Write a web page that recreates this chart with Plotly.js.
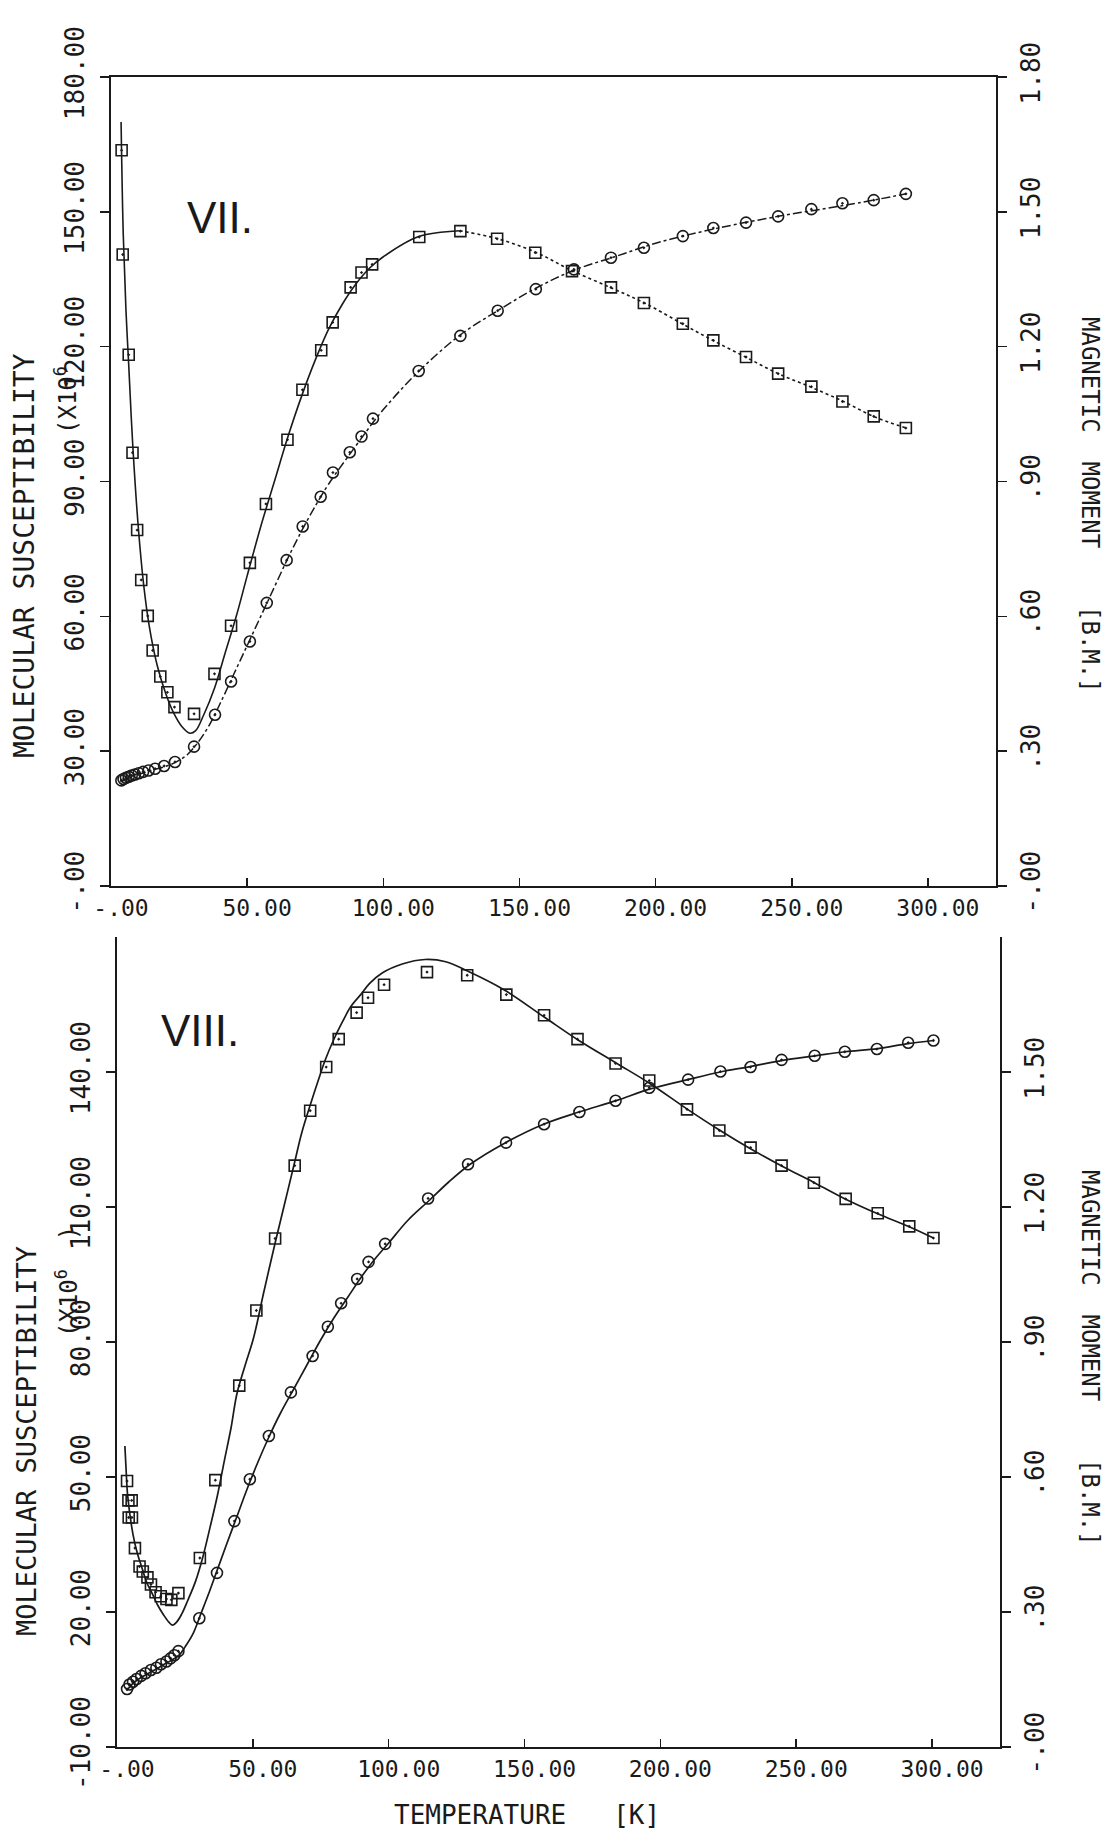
<!DOCTYPE html>
<html>
<head>
<meta charset="utf-8">
<script src="https://cdn.plot.ly/plotly-3.0.1.min.js"></script>
<style>
  html, body { margin: 0; padding: 0; background: #ffffff; }
  #chart { width: 1109px; height: 1831px; }
</style>
</head>
<body>
<div id="chart"></div>
<script>
// ---------------- DATA ----------------
// Panel VII : measured susceptibility (squares, left axis) and magnetic moment (circles, right axis)
const T7_sq = [3.9, 4.3, 6.5, 7.9, 9.6, 11.1, 13.5, 15.3, 18.1, 20.7, 23.3, 30.5, 38.0, 44.1, 51.0, 56.9, 64.8, 70.3, 77.2, 81.4, 88.0, 92.0, 95.9, 113.2, 128.3, 141.8, 155.8, 169.3, 183.6, 195.7, 210.0, 221.2, 233.2, 245.0, 257.2, 268.6, 280.1, 291.9];
const chi7 = [163.7, 140.5, 118.2, 96.4, 79.2, 68.1, 60.1, 52.4, 46.6, 43.1, 39.8, 38.3, 47.2, 57.9, 71.9, 85.0, 99.3, 110.4, 119.2, 125.4, 133.2, 136.5, 138.3, 144.4, 145.7, 144.0, 140.9, 136.8, 133.2, 129.7, 125.1, 121.4, 117.7, 114.0, 111.1, 107.8, 104.5, 101.9];
const T7_ci = [3.8, 4.6, 5.5, 6.5, 7.6, 8.8, 10.2, 11.8, 13.8, 16.2, 19.5, 23.5, 30.5, 38.2, 44.1, 51.0, 57.2, 64.5, 70.4, 77.0, 81.5, 87.7, 92.0, 96.2, 113.0, 128.3, 142.0, 156.0, 170.0, 183.6, 195.7, 210.0, 221.2, 233.2, 245.0, 257.2, 268.6, 280.1, 291.9];
const mu7 = [0.235, 0.238, 0.241, 0.243, 0.246, 0.248, 0.251, 0.254, 0.257, 0.261, 0.267, 0.276, 0.310, 0.381, 0.455, 0.544, 0.630, 0.725, 0.800, 0.866, 0.920, 0.965, 1.000, 1.040, 1.146, 1.224, 1.280, 1.328, 1.372, 1.398, 1.420, 1.446, 1.464, 1.476, 1.490, 1.506, 1.519, 1.526, 1.540];
// Panel VII : fitted curves
const T7_fitChiA = [3.7, 4.5, 5.5, 6.5, 8, 10, 12, 14, 17, 20, 23, 26, 29, 31, 34, 38, 42, 46, 50, 55, 60, 65, 70, 75, 80, 85, 90, 95, 100, 113, 128];
const chi7_fitA = [170, 145, 128, 116, 98, 80, 67, 58, 49, 43, 38.5, 35.5, 34, 34.5, 38, 44, 52, 60, 69, 80, 90, 100, 109, 117, 124, 129.5, 134, 137.5, 140, 144.5, 145.8];
const T7_fitChiB = [128, 142, 156, 169, 184, 196, 210, 221, 233, 245, 257, 269, 280, 292];
const chi7_fitB = [145.8, 144, 141, 137, 133, 129.7, 125, 121.4, 117.7, 114, 111, 107.8, 104.5, 101.9];
const T7_fitMu = [3.5, 8, 12, 16, 20, 24, 28, 32, 36, 40, 45, 50, 55, 60, 65, 70, 75, 80, 90, 100, 113, 128, 142, 156, 170, 185, 200, 220, 245, 270, 292];
const mu7_fit = [0.232, 0.245, 0.252, 0.259, 0.266, 0.276, 0.292, 0.32, 0.357, 0.405, 0.47, 0.535, 0.60, 0.665, 0.73, 0.79, 0.845, 0.895, 0.98, 1.06, 1.145, 1.225, 1.28, 1.33, 1.37, 1.40, 1.43, 1.46, 1.49, 1.515, 1.54];

// Panel VIII
const T8_sq = [3.7, 4.2, 5.4, 4.3, 5.5, 6.6, 8.3, 9.5, 11.2, 12.5, 14.2, 16.1, 18.2, 20.0, 22.6, 30.5, 36.2, 45.0, 51.3, 58.2, 65.4, 71.1, 77.0, 81.6, 88.2, 92.4, 98.3, 114.1, 128.9, 143.3, 157.2, 169.5, 183.5, 195.9, 209.8, 221.7, 233.2, 244.6, 256.5, 268.2, 280.0, 291.6, 300.5];
const chi8 = [49.1, 44.8, 44.8, 41.0, 41.0, 34.2, 30.1, 29.0, 27.7, 26.1, 24.4, 23.5, 22.9, 22.7, 24.2, 32.0, 49.3, 70.3, 87.0, 103.0, 119.2, 131.4, 141.1, 147.3, 153.2, 156.5, 159.4, 162.2, 161.5, 157.2, 152.6, 147.3, 141.9, 138.1, 131.7, 127.0, 123.2, 119.2, 115.4, 111.8, 108.6, 105.7, 103.1];
const T8_ci = [3.7, 4.6, 5.9, 7.2, 8.9, 10.5, 12.5, 14.5, 16.2, 18.2, 19.7, 21.1, 22.6, 30.3, 36.8, 43.2, 48.9, 55.9, 64.0, 72.0, 77.6, 82.5, 88.4, 92.6, 98.7, 114.5, 129.2, 143.2, 157.2, 170.2, 183.5, 195.9, 210.2, 222.1, 233.2, 244.6, 256.8, 267.9, 279.7, 291.2, 300.5];
const mu8 = [0.129, 0.139, 0.145, 0.151, 0.158, 0.164, 0.171, 0.176, 0.184, 0.190, 0.197, 0.204, 0.213, 0.286, 0.387, 0.502, 0.595, 0.691, 0.788, 0.869, 0.934, 0.986, 1.040, 1.078, 1.118, 1.219, 1.295, 1.343, 1.384, 1.411, 1.436, 1.465, 1.483, 1.501, 1.511, 1.527, 1.536, 1.545, 1.551, 1.565, 1.570];
const T8_fitChi = [2.9, 3.4, 3.9, 5.9, 7.5, 9.2, 11, 13.2, 15, 17.1, 19, 20.4, 22, 23.7, 26, 28.9, 31.5, 34.2, 37, 39.5, 42, 44.1, 47, 50.3, 54, 58.2, 62, 65.4, 68, 71.3, 74, 76.6, 80, 83.2, 86, 89.7, 93, 97.6, 105, 113.4, 121, 129.2, 142.4, 157.5, 170, 184, 196, 210, 222, 233, 245, 257, 268, 280, 292, 300.5];
const chi8_fit = [56.9, 51, 46, 37.2, 33, 29.8, 26.5, 23.8, 21.5, 19.4, 17.8, 17.1, 17.8, 19.4, 22.5, 26.8, 32, 38.7, 46, 53.6, 61, 68.4, 74.5, 81, 91, 102, 111.5, 120, 126.5, 133, 138, 142.6, 147.5, 151.4, 154.5, 157.2, 159.7, 162, 164, 165, 164.5, 162.4, 158.3, 152.1, 147, 141.9, 137.5, 131.7, 127, 123, 119, 115.3, 111.8, 108.5, 105.5, 103.1];
const T8_fitMu = [3.5, 6, 9, 12, 15, 18, 21, 23, 25, 28, 31, 34, 37, 40, 44, 48, 52, 56, 60, 65, 70, 75, 80, 85, 90, 95, 100, 107, 115, 122, 130, 143, 157, 170, 184, 196, 210, 222, 233, 245, 257, 268, 280, 291, 300.5];
const mu8_fit = [0.125, 0.142, 0.155, 0.165, 0.175, 0.186, 0.196, 0.205, 0.222, 0.252, 0.298, 0.345, 0.395, 0.445, 0.51, 0.575, 0.635, 0.69, 0.74, 0.795, 0.85, 0.905, 0.955, 1.0, 1.045, 1.085, 1.12, 1.17, 1.215, 1.255, 1.295, 1.343, 1.384, 1.411, 1.437, 1.462, 1.483, 1.50, 1.512, 1.526, 1.536, 1.545, 1.552, 1.563, 1.570];

// Tick labels
const xTickVals = [0, 50, 100, 150, 200, 250, 300];
const xTickText = ["-.00", "50.00", "100.00", "150.00", "200.00", "250.00", "300.00"];
const y7TickVals = [0, 30, 60, 90, 120, 150, 180];
const y7TickText = ["-.00", "30.00", "60.00", "90.00", "120.00", "150.00", "180.00"];
const y8TickVals = [-10, 20, 50, 80, 110, 140];
const y8TickText = ["-10.00", "20.00", "50.00", "80.00", "110.00", "140.00"];
const muTickVals7 = [0, 0.3, 0.6, 0.9, 1.2, 1.5, 1.8];
const muTickText7 = ["-.00", ".30", ".60", ".90", "1.20", "1.50", "1.80"];
const muTickVals8 = [0, 0.3, 0.6, 0.9, 1.2, 1.5];
const muTickText8 = ["-.00", ".30", ".60", ".90", "1.20", "1.50"];

// ---------------- LAYOUT ----------------
const W = 1109, H = 1831;
const fx = p => p / W;
const fy = p => 1 - p / H;
const MONO = "DejaVu Sans Mono, monospace";
const ink = "#1a1a1a";

const sq = {symbol: "square-open-dot", size: 11, color: ink, line: {width: 1.6, color: ink}};
const ci = {symbol: "circle-open-dot", size: 11, color: ink, line: {width: 1.6, color: ink}};

const traces = [
  // VII
  {x: T7_fitChiA, y: chi7_fitA, xaxis: "x", yaxis: "y", mode: "lines", line: {color: ink, width: 1.6, shape: "spline"}},
  {x: T7_fitChiB, y: chi7_fitB, xaxis: "x", yaxis: "y", mode: "lines", line: {color: ink, width: 1.6, dash: "dot", shape: "spline"}},
  {x: T7_fitMu, y: mu7_fit, xaxis: "x", yaxis: "y2", mode: "lines", line: {color: ink, width: 1.5, dash: "dashdot", shape: "spline"}},
  {x: T7_sq, y: chi7, xaxis: "x", yaxis: "y", mode: "markers", marker: sq},
  {x: T7_ci, y: mu7, xaxis: "x", yaxis: "y2", mode: "markers", marker: ci},
  // VIII
  {x: T8_fitChi, y: chi8_fit, xaxis: "x2", yaxis: "y3", mode: "lines", line: {color: ink, width: 1.7, shape: "spline"}},
  {x: T8_fitMu, y: mu8_fit, xaxis: "x2", yaxis: "y4", mode: "lines", line: {color: ink, width: 1.7, shape: "spline"}},
  {x: T8_sq, y: chi8, xaxis: "x2", yaxis: "y3", mode: "markers", marker: sq},
  {x: T8_ci, y: mu8, xaxis: "x2", yaxis: "y4", mode: "markers", marker: ci}
];

const axBase = {
  showgrid: false, zeroline: false, showline: true, linecolor: ink, linewidth: 2,
  tickcolor: ink, tickwidth: 1.5, automargin: false, tickmode: "array",
  fixedrange: true
};
const xFont = {family: MONO, size: 23, color: ink};
const yFont = {family: MONO, size: 26, color: ink};

function note(text, xp, yp, size, angle, family) {
  return {
    text: text, x: fx(xp), y: fy(yp), xref: "paper", yref: "paper",
    xanchor: "center", yanchor: "middle", showarrow: false,
    textangle: angle || 0,
    font: {family: family || MONO, size: size, color: ink}
  };
}

const rightTitle = "MAGNETIC\u00a0\u00a0MOMENT\u00a0\u00a0\u00a0\u00a0[B.M.]";

const layout = {
  width: W, height: H,
  margin: {l: 0, r: 0, t: 0, b: 0},
  paper_bgcolor: "#ffffff", plot_bgcolor: "#ffffff",
  showlegend: false,
  xaxis: Object.assign({}, axBase, {
    domain: [fx(111), fx(996)], range: [0, 325], anchor: "y",
    tickvals: xTickVals, ticktext: xTickText, ticks: "inside", ticklen: 8,
    tickfont: xFont, mirror: true, ticklabelshift: 10
  }),
  yaxis: Object.assign({}, axBase, {
    domain: [fy(886), fy(77)], range: [0, 180], anchor: "x",
    tickvals: y7TickVals, ticktext: y7TickText, ticks: "outside", ticklen: 9,
    tickangle: -90, tickfont: yFont, ticklabelstandoff: 6
  }),
  yaxis2: Object.assign({}, axBase, {
    overlaying: "y", side: "right", range: [0, 1.8], anchor: "x",
    tickvals: muTickVals7, ticktext: muTickText7, ticks: "outside", ticklen: 9,
    tickangle: -90, tickfont: yFont, ticklabelstandoff: 2
  }),
  xaxis2: Object.assign({}, axBase, {
    domain: [fx(117), fx(1000)], range: [0, 325], anchor: "y3",
    tickvals: xTickVals, ticktext: xTickText, ticks: "inside", ticklen: 8,
    tickfont: xFont, ticklabelshift: 10
  }),
  yaxis3: Object.assign({}, axBase, {
    domain: [fy(1747), fy(937)], range: [-10, 170], anchor: "x2",
    tickvals: y8TickVals, ticktext: y8TickText, ticks: "outside", ticklen: 9,
    tickangle: -90, tickfont: yFont, ticklabelstandoff: 6
  }),
  yaxis4: Object.assign({}, axBase, {
    overlaying: "y3", side: "right", range: [0, 1.8], anchor: "x2",
    tickvals: muTickVals8, ticktext: muTickText8, ticks: "outside", ticklen: 9,
    tickangle: -90, tickfont: yFont, ticklabelstandoff: 2
  }),
  annotations: [
    note("VII.", 220, 217, 44, 0, "Liberation Sans, Arial, sans-serif"),
    note("VIII.", 200, 1030, 44, 0, "Liberation Sans, Arial, sans-serif"),
    note("MOLECULAR SUSCEPTIBILITY", 24, 556, 28, -90),
    note("(X10<sup>6</sup>", 66, 400, 24, -90),
    note("MOLECULAR SUSCEPTIBILITY", 26, 1441, 27, -90),
    note("(X10<sup>6</sup>\u00a0\u00a0)", 67, 1282, 24, -90),
    note(rightTitle, 1090, 505, 24, 90),
    note(rightTitle, 1090, 1358, 24, 90),
    note("TEMPERATURE\u00a0\u00a0\u00a0[K]", 527, 1815, 26, 0)
  ]
};

Plotly.newPlot("chart", traces, layout, {staticPlot: true, displayModeBar: false});
</script>
</body>
</html>
